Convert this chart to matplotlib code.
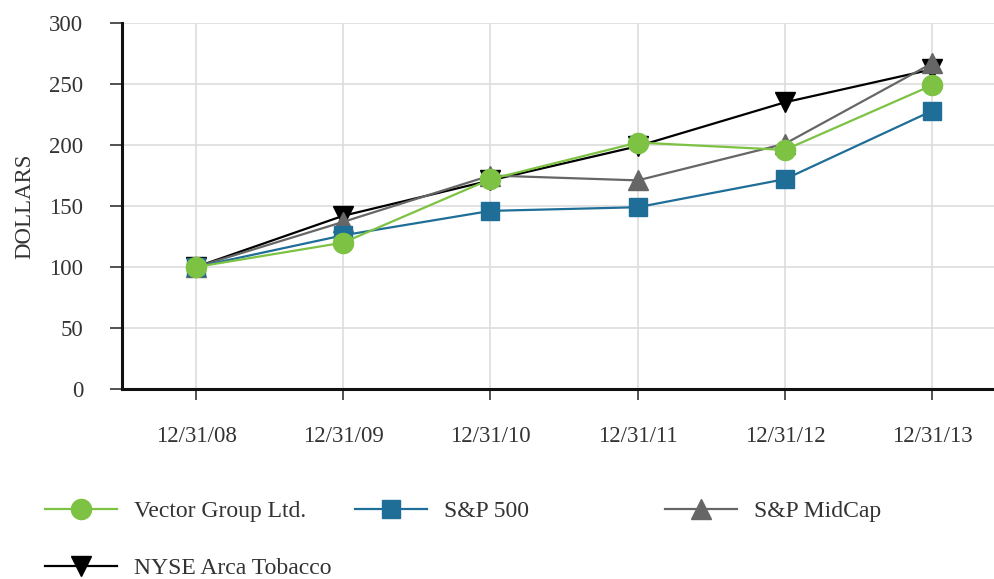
import matplotlib
matplotlib.use("Agg")
import matplotlib.pyplot as plt
from matplotlib.lines import Line2D

# Data
dates = ["12/31/08", "12/31/09", "12/31/10", "12/31/11", "12/31/12", "12/31/13"]
vector = [100, 120, 172, 202, 196, 249]
sp500 = [100, 126, 146, 149, 172, 228]
midcap = [100, 137, 175, 171, 201, 267]
tobacco = [100, 142, 171, 199, 235, 262]

series = [
    ("Vector Group Ltd.", vector, "#7dc243", "o", 14.5),
    ("S&P 500", sp500, "#1f6e98", "s", 13.5),
    ("S&P MidCap", midcap, "#666666", "^", 14.5),
    ("NYSE Arca Tobacco", tobacco, "#000000", "v", 14.5),
]

plt.rcParams['font.family'] = ['Liberation Serif', 'DejaVu Serif']
FS = 16.5

fig = plt.figure(figsize=(9.94, 5.79), dpi=100)
ax = fig.add_axes([122 / 994, (579 - 389) / 579, (994 - 122) / 994, (389 - 23) / 579])

x = list(range(len(dates)))
# draw in reverse so the green line sits on top
for name, vals, color, marker, ms in reversed(series):
    ax.plot(x, vals, color=color, marker=marker, markersize=ms, linewidth=1.6)

ax.set_xlim(-0.503, 5.42)
ax.set_ylim(0, 300)
ax.set_yticks(range(0, 301, 50))
ax.set_xticks(x)
ax.set_xticklabels(dates)
ax.tick_params(axis='both', labelsize=FS, colors='#333333', width=1.2)
ax.tick_params(axis='x', length=8, pad=19)
ax.tick_params(axis='y', length=9, pad=19)
ax.set_ylabel("DOLLARS", fontsize=FS, color='#333333', labelpad=10)

ax.grid(True, color='#dddddd', linewidth=1.2)
ax.set_axisbelow(True)
for side in ['top', 'right']:
    ax.spines[side].set_visible(False)
for side in ['left', 'bottom']:
    ax.spines[side].set_linewidth(2.2)
    ax.spines[side].set_color('#111111')

# legend entries placed like the reference (three in the first row, one below)
positions = [(45, 511), (355, 511), (665, 511), (45, 568)]
for (name, vals, color, marker, ms), (px, py) in zip(series, positions):
    h = Line2D([], [], color=color, marker=marker, markersize=ms, linewidth=1.6)
    leg = fig.legend([h], [name], loc='center left',
                     bbox_to_anchor=(px / 994, 1 - py / 579),
                     frameon=False, fontsize=17, handlelength=3.05,
                     handletextpad=0.7, borderpad=0, borderaxespad=0)
    for t in leg.get_texts():
        t.set_color('#333333')

fig.savefig("out.png", dpi=100)
